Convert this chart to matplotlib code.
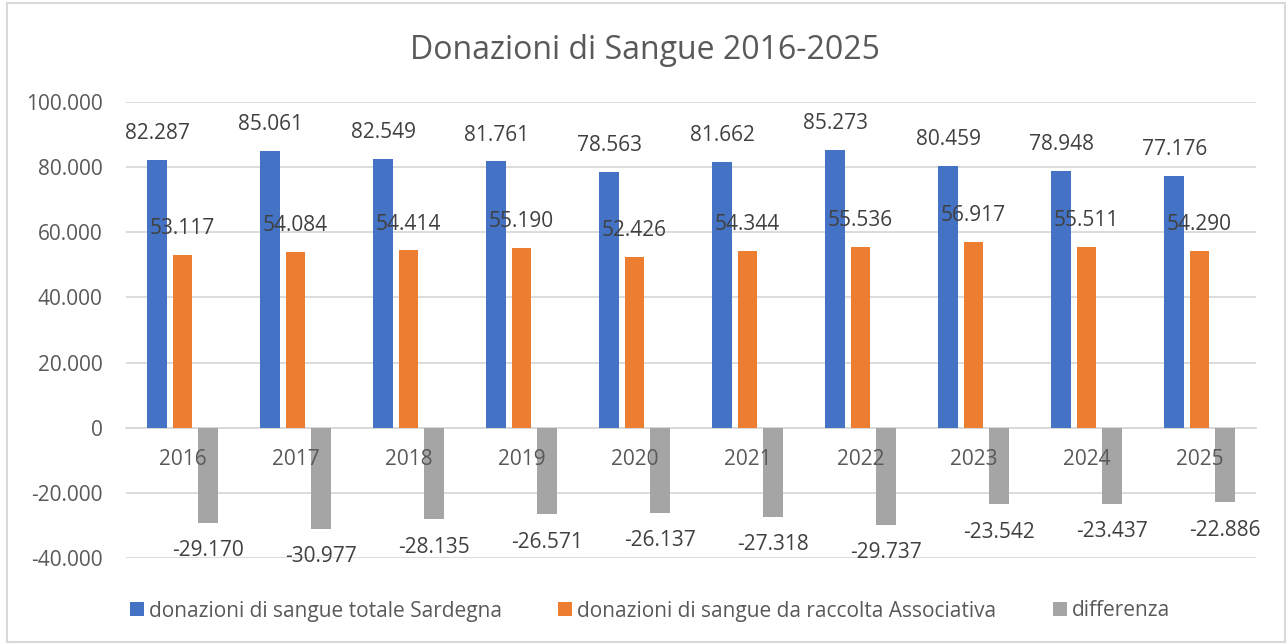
import matplotlib.pyplot as plt
from matplotlib.patches import Rectangle
from matplotlib.ticker import FuncFormatter

plt.rcParams['font.family'] = ['Open Sans', 'DejaVu Sans']

anni = ['2016', '2017', '2018', '2019', '2020', '2021', '2022', '2023', '2024', '2025']
totale = [82287, 85061, 82549, 81761, 78563, 81662, 85273, 80459, 78948, 77176]
associativa = [53117, 54084, 54414, 55190, 52426, 54344, 55536, 56917, 55511, 54290]
differenza = [-29170, -30977, -28135, -26571, -26137, -27318, -29737, -23542, -23437, -22886]

serie = [
    ('donazioni di sangue totale Sardegna', totale, '#4472C4'),
    ('donazioni di sangue da raccolta Associativa', associativa, '#ED7D31'),
    ('differenza', differenza, '#A5A5A5'),
]

W, H = 1288, 644
fig = plt.figure(figsize=(W / 100, H / 100), dpi=100)

# bordo area grafico
fig.patches.append(Rectangle((7 / W, 2 / H), 1278 / W, 639 / H, transform=fig.transFigure,
                             fill=False, edgecolor='#d9d9d9', linewidth=1.5))

ax = fig.add_axes([126 / W, (H - 558) / H, 1130 / W, 456 / H])

def fmt(v):
    s = f"{abs(int(round(v))):,}".replace(',', '.')
    return ('-' if v < 0 else '') + s

x = list(range(len(anni)))
larg = 0.174
passo = 0.224
for i, (nome, vals, col) in enumerate(serie):
    pos = [xi + (i - 1) * passo for xi in x]
    # zorder sotto l'asse: le etichette degli anni restano sopra le barre
    ax.bar(pos, vals, width=larg, color=col, label=nome, zorder=2)
    for p, v in zip(pos, vals):
        off = 19 if v >= 0 else -20
        ax.annotate(fmt(v), (p, v), xytext=(0, off), textcoords='offset points',
                    ha='center', va='center', fontsize=15, color='#404040', zorder=4)

ax.set_xlim(-0.5, len(anni) - 0.5)
ax.set_ylim(-40000, 100000)
ax.set_yticks(range(-40000, 100001, 20000))
ax.yaxis.set_major_formatter(FuncFormatter(lambda v, p: fmt(v)))
ax.grid(axis='y', color='#d9d9d9', linewidth=1.3)
ax.set_axisbelow(True)
ax.xaxis.set_zorder(3)

for s in ['top', 'right', 'left']:
    ax.spines[s].set_visible(False)
ax.spines['bottom'].set_position(('data', 0))
ax.spines['bottom'].set_color('#d9d9d9')
ax.spines['bottom'].set_linewidth(1.3)
ax.spines['bottom'].set_zorder(1)

ax.set_xticks(x)
ax.set_xticklabels(anni)
ax.tick_params(axis='x', length=0, pad=15, labelsize=15, labelcolor='#595959')
ax.tick_params(axis='y', length=0, pad=17, labelsize=15, labelcolor='#595959')

fig.text(645 / W, 1 - 59 / H, 'Donazioni di Sangue 2016-2025', ha='center', va='baseline',
         fontsize=23, color='#595959')

fig.legend(loc='center', bbox_to_anchor=(650 / W, 33 / H), ncol=3, frameon=False,
           fontsize=15, labelcolor='#595959', handlelength=0.67, handleheight=0.67,
           handletextpad=0.25, columnspacing=2.7)

fig.savefig('out.png', dpi=100)
